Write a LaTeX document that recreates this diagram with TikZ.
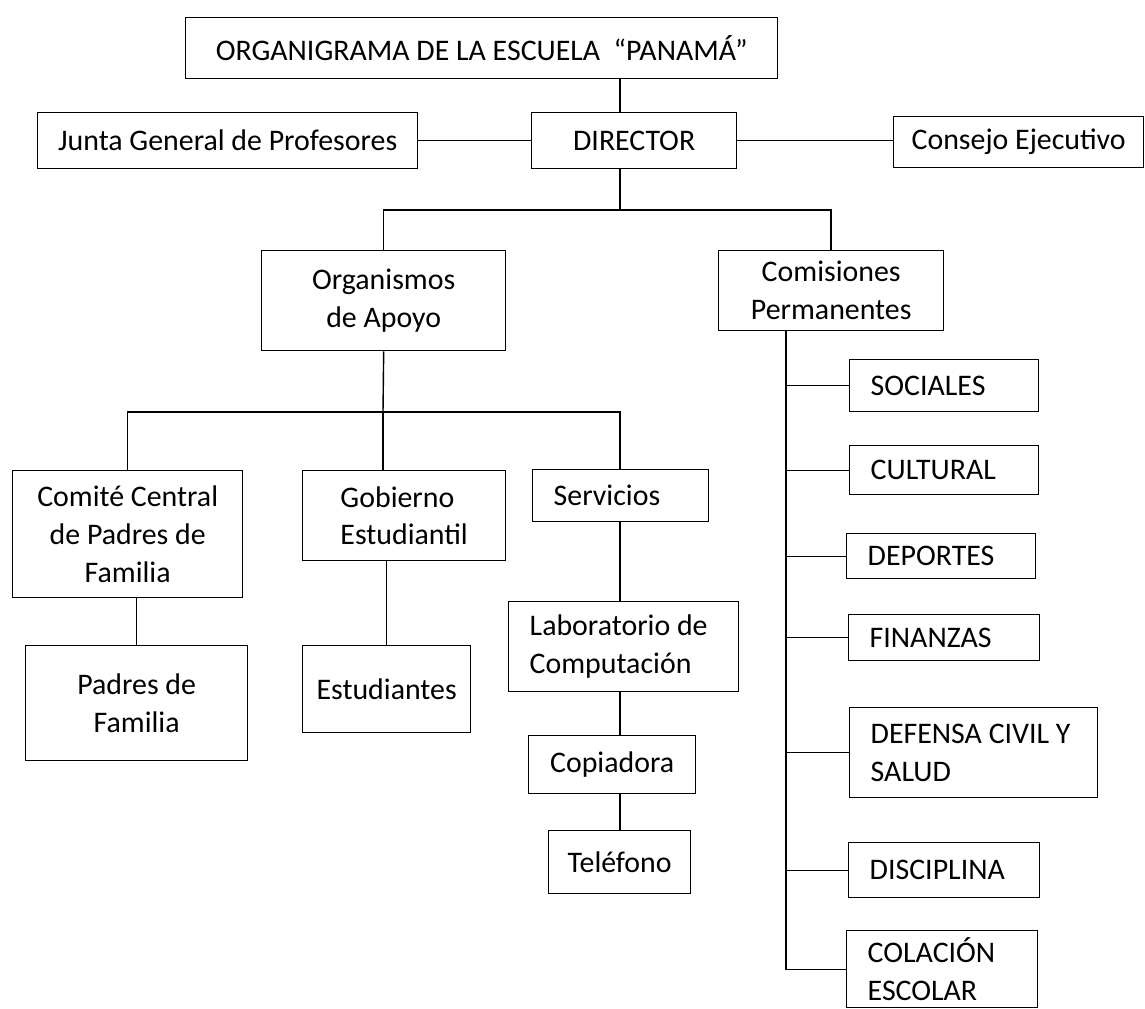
\documentclass[tikz,border=0pt]{standalone}
\usepackage{fontspec}
\setmainfont{Carlito}
\usepackage{tikz}
\usetikzlibrary{positioning}

\begin{document}
\begin{tikzpicture}[x=0.02cm, y=-0.02cm, line width=0.8pt]
    \tikzset{style={font=\fontsize{17}{21.5}\selectfont}}
    \tikzset{box/.style={draw, anchor=north west, inner sep=2pt, align=center}}
    \tikzset{com/.style={draw, anchor=north west, inner xsep=0.42cm, inner ysep=2pt, align=flush left}}
    \useasboundingbox (0,0) rectangle (1145,1008);

    \node[box, minimum width=11.84cm, minimum height=1.22cm] (title) at (185,17) {ORGANIGRAMA DE LA ESCUELA\ \ “PANAMÁ”};
    \node[box, minimum width=7.6cm,  minimum height=1.12cm] (junta)    at (37,112)  {Junta General de Profesores};
    \node[box, minimum width=4.1cm,  minimum height=1.12cm] (director) at (531,112) {DIRECTOR};
    \node[box, minimum width=5.0cm,  minimum height=1.02cm] (consejo)  at (893,116) {Consejo Ejecutivo};

    \node[box, minimum width=4.88cm, minimum height=2.0cm]  (organismos) at (261,250) {Organismos\\de Apoyo};
    \node[box, minimum width=4.5cm,  minimum height=1.6cm]  (comisiones) at (718,250) {Comisiones\\Permanentes};

    \node[box, minimum width=4.6cm,  minimum height=2.54cm] (comite)      at (12,470)  {Comité Central\\de Padres de\\Familia};
    \node[box, minimum width=4.44cm, minimum height=2.3cm]  (padres)      at (25,645)  {Padres de\\Familia};
    \node[box, align=left, minimum width=4.06cm, minimum height=1.8cm] (gobierno) at (302,470) {Gobierno\\Estudiantil};
    \node[box, minimum width=3.36cm, minimum height=1.74cm] (estudiantes) at (302,645) {Estudiantes};
    \node[com, text width=2.68cm, minimum height=1.04cm]    (servicios)   at (532,469) {Servicios};
    \node[com, text width=3.76cm, minimum height=1.8cm]     (lab)         at (508,601) {Laboratorio de\\Computación};
    \node[box, minimum width=3.34cm, minimum height=1.16cm] (copiadora)   at (528,735) {Copiadora};
    \node[box, minimum width=2.84cm, minimum height=1.26cm] (telefono)    at (548,830) {Teléfono};

    \node[com, text width=2.94cm, minimum height=1.04cm] (sociales)   at (849,359) {SOCIALES};
    \node[com, text width=2.94cm, minimum height=0.98cm] (cultural)   at (849,445) {CULTURAL};
    \node[com, text width=2.94cm, minimum height=0.9cm]  (deportes)   at (846,533) {DEPORTES};
    \node[com, text width=2.98cm, minimum height=0.92cm] (finanzas)   at (848,614) {FINANZAS};
    \node[com, text width=4.12cm, minimum height=1.8cm]  (defensa)    at (849,707) {DEFENSA CIVIL Y\\SALUD};
    \node[com, text width=2.98cm, minimum height=1.1cm]  (disciplina) at (848,842) {DISCIPLINA};
    \node[com, text width=2.98cm, minimum height=1.54cm] (colacion)   at (846,930) {COLACIÓN\\ESCOLAR};

    \coordinate (axis)  at (620,0);
    \coordinate (top)   at (620,210);
    \coordinate (apoyo) at (383,412);
    \coordinate (spine) at (786,0);

    \draw (title.south -| axis) -- (director.north -| axis);
    \draw (junta) -- (director);
    \draw (director.east) -- (director.east -| consejo.west);
    \draw (director.south -| axis) -- (top);
    \draw (organismos.north) |- (top) -| (comisiones.north);

    \draw (organismos.south) -- (apoyo);
    \draw (comite.north) |- (apoyo) -| (servicios.north -| axis);
    \draw (apoyo) -- (gobierno.north -| apoyo);
    \draw (padres.north |- comite.south) -- (padres.north);
    \draw (estudiantes.north |- gobierno.south) -- (estudiantes.north);
    \draw (servicios.south -| axis) -- (lab.north -| axis);
    \draw (lab.south -| axis) -- (copiadora.north -| axis);
    \draw (copiadora.south -| axis) -- (telefono.north -| axis);

    \draw (comisiones.south -| spine) |- (colacion.west);
    \foreach \c in {sociales, cultural, deportes, finanzas, defensa, disciplina}
        \draw (spine |- \c.west) -- (\c.west);
\end{tikzpicture}
\end{document}
